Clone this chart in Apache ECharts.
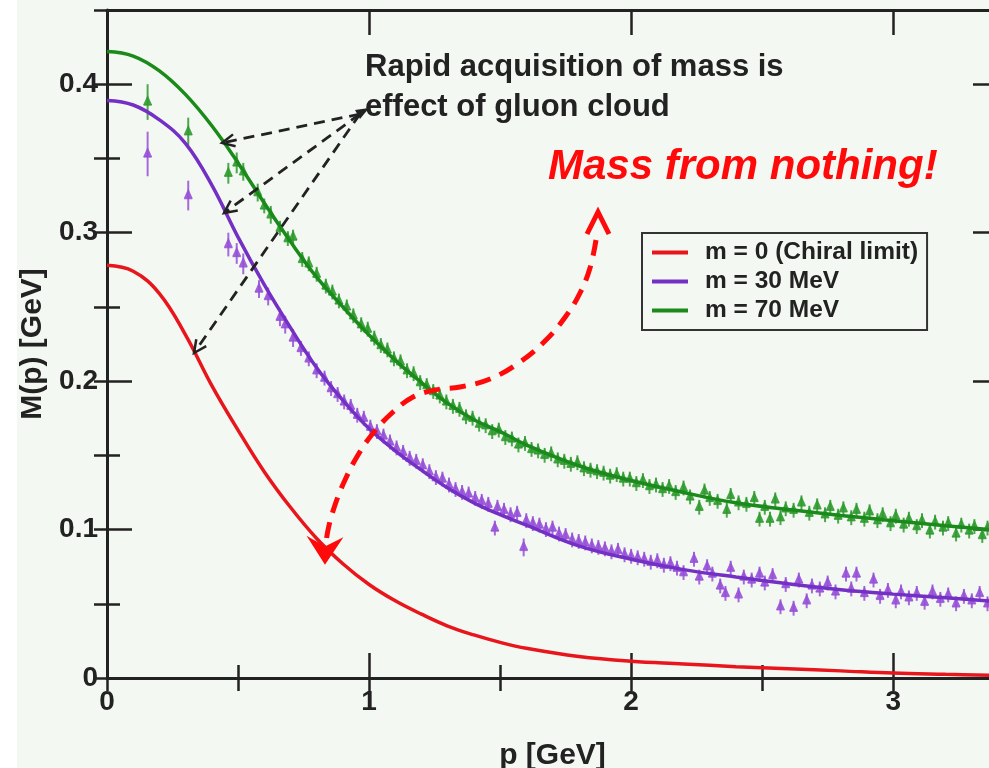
<!DOCTYPE html>
<html>
<head>
<meta charset="utf-8">
<script src="https://cdn.jsdelivr.net/npm/echarts@6/dist/echarts.min.js"></script>
<style>
  html, body { margin: 0; padding: 0; background: #fff; }
  #chart { width: 989px; height: 768px; }
</style>
</head>
<body>
<div id="chart"></div>
<script>
// fitted curves
const curveP = [0, 0.1, 0.2, 0.3, 0.4, 0.5, 0.6, 0.7, 0.8, 0.9, 1.0, 1.1, 1.2, 1.3, 1.4, 1.5, 1.6, 1.8, 2.0, 2.2, 2.4, 2.6, 2.8, 3.0, 3.2, 3.4];
const redM = [0.278, 0.274, 0.259, 0.231, 0.197, 0.167, 0.139, 0.115, 0.094, 0.077, 0.063, 0.052, 0.043, 0.035, 0.029, 0.024, 0.020, 0.0145, 0.0113, 0.0095, 0.0076, 0.0062, 0.0048, 0.0033, 0.0025, 0.0018];
const purpleM = [0.389, 0.386, 0.376, 0.360, 0.332, 0.297, 0.265, 0.236, 0.209, 0.187, 0.168, 0.153, 0.140, 0.128, 0.118, 0.110, 0.103, 0.089, 0.080, 0.073, 0.068, 0.0635, 0.0595, 0.0565, 0.054, 0.0515];
const greenM = [0.422, 0.419, 0.409, 0.393, 0.372, 0.347, 0.320, 0.294, 0.270, 0.250, 0.231, 0.214, 0.199, 0.185, 0.174, 0.166, 0.157, 0.143, 0.133, 0.125, 0.118, 0.1135, 0.1095, 0.106, 0.1025, 0.0995];

// lattice points [p, M, error]
const greenPts = [
  [0.155,0.388,0.012],[0.31,0.368,0.0095],[0.463,0.340,0.007],[0.495,0.347,0.007],[0.52,0.341,0.006],
  [0.575,0.327,0.006],[0.60,0.318,0.005],[0.625,0.312,0.006],[0.66,0.303,0.005],[0.69,0.296,0.005],
  [0.71,0.297,0.005],[0.745,0.282,0.005],[0.77,0.279,0.005],[0.80,0.272,0.005],[0.835,0.264,0.005],
  [0.86,0.260,0.005],[0.885,0.254,0.005],[0.915,0.250,0.005],[0.94,0.244,0.005],[0.97,0.238,0.005],
  [0.995,0.235,0.005],[1.02,0.229,0.005],[1.045,0.224,0.005],[1.07,0.221,0.005],[1.095,0.215,0.005],
  [1.12,0.213,0.005],[1.145,0.207,0.005],[1.17,0.205,0.005],[1.195,0.199,0.005],[1.22,0.197,0.005],
  [1.245,0.193,0.005],[1.27,0.190,0.005],[1.295,0.186,0.005],[1.32,0.183,0.005],[1.345,0.181,0.005],
  [1.37,0.176,0.005],[1.395,0.175,0.005],[1.42,0.171,0.005],[1.445,0.170,0.005],[1.47,0.166,0.005],
  [1.495,0.167,0.005],[1.52,0.162,0.005],[1.545,0.161,0.005],[1.57,0.157,0.005],[1.595,0.158,0.005],
  [1.62,0.154,0.005],[1.645,0.153,0.005],[1.67,0.150,0.005],[1.695,0.151,0.005],[1.72,0.147,0.005],
  [1.745,0.146,0.005],[1.77,0.144,0.005],[1.795,0.145,0.005],[1.82,0.141,0.005],[1.845,0.140,0.005],
  [1.87,0.139,0.005],[1.895,0.138,0.005],[1.92,0.136,0.005],[1.945,0.137,0.005],[1.97,0.134,0.005],
  [1.995,0.134,0.005],[2.02,0.131,0.005],[2.045,0.133,0.005],[2.07,0.129,0.005],[2.095,0.130,0.005],
  [2.12,0.127,0.005],[2.145,0.129,0.005],[2.17,0.125,0.005],[2.20,0.128,0.005],[2.225,0.122,0.005],
  [2.26,0.115,0.005],[2.28,0.126,0.005],[2.30,0.121,0.005],[2.33,0.119,0.005],[2.365,0.113,0.005],
  [2.38,0.123,0.005],[2.41,0.118,0.005],[2.44,0.117,0.005],[2.47,0.121,0.005],[2.49,0.107,0.005],
  [2.51,0.115,0.005],[2.53,0.107,0.005],[2.55,0.120,0.005],[2.57,0.108,0.005],[2.59,0.114,0.005],
  [2.62,0.113,0.005],[2.65,0.118,0.005],[2.68,0.111,0.005],[2.71,0.116,0.005],[2.74,0.110,0.005],
  [2.76,0.115,0.005],[2.79,0.109,0.005],[2.81,0.114,0.005],[2.84,0.108,0.005],[2.86,0.113,0.005],
  [2.89,0.107,0.005],[2.91,0.112,0.005],[2.94,0.106,0.005],[2.96,0.110,0.005],[2.99,0.104,0.005],
  [3.01,0.109,0.005],[3.04,0.103,0.005],[3.06,0.107,0.005],[3.09,0.102,0.005],[3.11,0.106,0.005],
  [3.14,0.099,0.005],[3.16,0.105,0.005],[3.19,0.101,0.005],[3.21,0.104,0.005],[3.24,0.097,0.005],
  [3.26,0.103,0.005],[3.29,0.099,0.005],[3.31,0.102,0.005],[3.34,0.096,0.005],[3.36,0.101,0.005],
  [3.39,0.098,0.005]
];
const purplePts = [
  [0.155,0.353,0.015],[0.31,0.325,0.010],[0.463,0.292,0.008],[0.495,0.286,0.007],[0.52,0.279,0.007],
  [0.58,0.262,0.006],[0.615,0.257,0.006],[0.66,0.243,0.006],[0.68,0.238,0.006],[0.71,0.229,0.006],
  [0.74,0.222,0.005],[0.77,0.215,0.005],[0.80,0.207,0.005],[0.83,0.202,0.005],[0.855,0.195,0.005],
  [0.88,0.191,0.005],[0.905,0.186,0.005],[0.93,0.183,0.005],[0.955,0.177,0.005],[0.98,0.175,0.005],
  [1.005,0.169,0.005],[1.03,0.166,0.005],[1.055,0.163,0.005],[1.08,0.159,0.005],[1.105,0.155,0.005],
  [1.13,0.152,0.005],[1.155,0.148,0.005],[1.18,0.146,0.005],[1.205,0.143,0.005],[1.23,0.139,0.005],
  [1.255,0.135,0.005],[1.28,0.134,0.005],[1.305,0.130,0.005],[1.33,0.127,0.005],[1.355,0.125,0.005],
  [1.38,0.124,0.005],[1.405,0.121,0.005],[1.43,0.119,0.005],[1.455,0.117,0.005],[1.48,0.101,0.005],
  [1.49,0.115,0.005],[1.515,0.113,0.005],[1.54,0.110,0.005],[1.565,0.111,0.005],[1.59,0.088,0.006],
  [1.60,0.106,0.005],[1.625,0.104,0.005],[1.65,0.103,0.005],[1.675,0.100,0.005],[1.70,0.101,0.005],
  [1.725,0.097,0.005],[1.75,0.096,0.005],[1.775,0.093,0.005],[1.80,0.092,0.005],[1.825,0.091,0.005],
  [1.85,0.089,0.005],[1.875,0.088,0.005],[1.90,0.087,0.005],[1.925,0.085,0.005],[1.95,0.086,0.005],
  [1.975,0.083,0.005],[2.00,0.082,0.005],[2.025,0.081,0.005],[2.05,0.080,0.005],[2.075,0.078,0.005],
  [2.10,0.079,0.005],[2.125,0.076,0.005],[2.15,0.077,0.005],[2.175,0.074,0.005],[2.20,0.071,0.005],
  [2.24,0.080,0.005],[2.26,0.068,0.005],[2.29,0.075,0.005],[2.31,0.070,0.005],[2.34,0.062,0.005],
  [2.36,0.057,0.005],[2.38,0.074,0.005],[2.41,0.056,0.005],[2.43,0.068,0.005],[2.46,0.066,0.005],
  [2.49,0.070,0.005],[2.51,0.064,0.005],[2.54,0.069,0.005],[2.57,0.048,0.005],[2.59,0.063,0.005],
  [2.62,0.047,0.005],[2.64,0.066,0.005],[2.67,0.052,0.005],[2.69,0.062,0.005],[2.72,0.060,0.005],
  [2.75,0.064,0.005],[2.78,0.058,0.005],[2.82,0.070,0.005],[2.84,0.060,0.005],[2.86,0.070,0.005],
  [2.89,0.057,0.005],[2.925,0.066,0.005],[2.95,0.055,0.005],[2.98,0.059,0.005],[3.01,0.052,0.005],
  [3.03,0.058,0.005],[3.06,0.054,0.005],[3.09,0.057,0.005],[3.12,0.051,0.005],[3.15,0.058,0.005],
  [3.18,0.053,0.005],[3.21,0.056,0.005],[3.24,0.050,0.005],[3.27,0.055,0.005],[3.30,0.052,0.005],
  [3.33,0.057,0.005],[3.36,0.050,0.005],[3.39,0.054,0.005]
];

const seriesNames = ['m = 0 (Chiral limit)', 'm = 30 MeV', 'm = 70 MeV'];
const lineColors = ['#e8161c', '#7430c4', '#1a8a1a'];
const markerColors = ['#9650d8', '#2f9a2f'];

const FONT = '"Liberation Sans", Arial, Helvetica, sans-serif';
const AX = '#222';

const myChart = echarts.init(document.getElementById('chart'));

// error bar + triangle marker
function pointRenderer(color) {
  return function (params, api) {
    const p = api.value(0), m = api.value(1), e = api.value(2);
    const top = api.coord([p, m + e]);
    const bot = api.coord([p, m - e]);
    const c = api.coord([p, m]);
    return {
      type: 'group',
      children: [
        { type: 'line', shape: { x1: top[0], y1: top[1], x2: bot[0], y2: bot[1] }, style: { stroke: color, lineWidth: 2, opacity: 0.85 } },
        { type: 'line', shape: { x1: c[0] - 4, y1: c[1] + 3, x2: c[0] + 4, y2: c[1] + 3 }, style: { stroke: color, lineWidth: 1.5, opacity: 0.8 } },
        { type: 'polygon', shape: { points: [[c[0], c[1] - 7], [c[0] - 4.5, c[1] + 3], [c[0] + 4.5, c[1] + 3]] }, style: { fill: color, opacity: 0.9 } }
      ]
    };
  };
}

// open arrow head for the annotation arrows
function arrowHead(from, tip, len, spread) {
  const a = Math.atan2(tip[1] - from[1], tip[0] - from[0]);
  return [
    [tip[0] - len * Math.cos(a - spread), tip[1] - len * Math.sin(a - spread)],
    tip,
    [tip[0] - len * Math.cos(a + spread), tip[1] - len * Math.sin(a + spread)]
  ];
}

const src = [364, 112];
const targets = [[222, 143], [224, 213], [194, 353]];
const dashStyle = { stroke: '#222', lineWidth: 2.8, lineDash: [11, 7] };
const blackArrows = [];
targets.forEach(t => {
  blackArrows.push({ type: 'line', shape: { x1: src[0] - 4, y1: src[1] + 2, x2: t[0], y2: t[1] }, style: dashStyle, z: 100 });
  blackArrows.push({ type: 'polyline', shape: { points: arrowHead(src, t, 14, 0.45) }, style: { stroke: '#222', lineWidth: 2.5, fill: null }, z: 100 });
});
blackArrows.push({ type: 'polygon', shape: { points: [[369, 108], [355, 110], [360, 119]] }, style: { fill: '#222' }, z: 100 });

const redPath = [[596, 240], [590, 268], [580, 293], [566, 316], [546, 340], [520, 362], [490, 379], [460, 387], [435, 390], [413, 397], [393, 412], [374, 432], [358, 455], [345, 480], [335, 505], [328, 530], [325, 552]];

const xMain = { min: 0, max: 3.4, interval: 1 };
const xMinor = { min: 0, max: 3.4, interval: 0.5 };
const yMain = { min: 0, max: 0.45, interval: 0.1 };
const yMinor = { min: 0, max: 0.45, interval: 0.05 };

function tickAxis(base, position, len, extra) {
  return Object.assign({
    type: 'value',
    position: position,
    min: base.min, max: base.max, interval: base.interval,
    splitLine: { show: false },
    axisLine: { show: true, onZero: false, lineStyle: { color: AX, width: 3 } },
    axisTick: { show: true, inside: true, length: len, lineStyle: { color: AX, width: 2.5 } },
    axisLabel: { show: false }
  }, extra || {});
}

const option = {
  backgroundColor: '#f4f8f2',
  animation: false,
  grid: { left: 107, top: 10, width: 891, height: 668, containLabel: false, outerBoundsMode: 'none' },
  legend: {
    data: seriesNames,
    orient: 'vertical',
    left: 642, top: 233,
    padding: [6, 9, 6, 10],
    itemGap: 2,
    itemWidth: 36, itemHeight: 4,
    icon: 'rect',
    borderColor: '#333', borderWidth: 2,
    backgroundColor: 'transparent',
    textStyle: { fontFamily: FONT, fontWeight: 'bold', fontSize: 24.5, color: '#222', lineHeight: 27, padding: [0, 0, 0, 12] }
  },
  xAxis: [
    tickAxis(xMain, 'bottom', 25, {
      name: 'p [GeV]', nameLocation: 'middle', nameGap: 63,
      nameTextStyle: { fontFamily: FONT, fontWeight: 'bold', fontSize: 30, color: '#222' },
      axisLabel: {
        show: true, margin: 10, fontFamily: FONT, fontWeight: 'bold', fontSize: 28, color: '#222',
        formatter: v => (Math.abs(v - Math.round(v)) < 1e-6 ? String(Math.round(v)) : '')
      }
    }),
    tickAxis(xMinor, 'bottom', 13, { axisLine: { show: false } }),
    tickAxis(xMain, 'top', 25),
    tickAxis(xMinor, 'top', 13, { axisLine: { show: false } })
  ],
  yAxis: [
    tickAxis(yMain, 'left', 25, {
      name: 'M(p) [GeV]', nameLocation: 'middle', nameGap: 54, nameRotate: 90,
      nameTextStyle: { fontFamily: FONT, fontWeight: 'bold', fontSize: 30, color: '#222' },
      axisLabel: {
        show: true, margin: 9, fontFamily: FONT, fontWeight: 'bold', fontSize: 28, color: '#222',
        formatter: v => {
          if (Math.abs(v) < 1e-9) return '0';
          return Math.abs(v * 10 - Math.round(v * 10)) < 1e-6 ? v.toFixed(1) : '';
        }
      }
    }),
    tickAxis(yMinor, 'left', 13, { axisLine: { show: false } }),
    tickAxis(yMain, 'right', 25),
    tickAxis(yMinor, 'right', 13, { axisLine: { show: false } })
  ],
  series: [
    {
      name: 'purple points', type: 'custom', xAxisIndex: 0, yAxisIndex: 0,
      dimensions: ['p', 'M', 'err'], encode: { x: 0, y: 1 },
      data: purplePts, renderItem: pointRenderer(markerColors[0]), z: 1
    },
    {
      name: 'green points', type: 'custom', xAxisIndex: 0, yAxisIndex: 0,
      dimensions: ['p', 'M', 'err'], encode: { x: 0, y: 1 },
      data: greenPts, renderItem: pointRenderer(markerColors[1]), z: 1
    },
    ...[redM, purpleM, greenM].map((vals, i) => ({
      name: seriesNames[i],
      type: 'line',
      xAxisIndex: 0, yAxisIndex: 0,
      data: curveP.map((p, k) => [p, vals[k]]),
      smooth: 0.4,
      showSymbol: false,
      itemStyle: { color: lineColors[i] },
      lineStyle: { color: lineColors[i], width: 3.5 },
      z: 3
    }))
  ],
  graphic: [
    { type: 'rect', shape: { x: 0, y: 0, width: 17, height: 768 }, style: { fill: '#ffffff' }, z: 0 },
    {
      type: 'text', x: 365, y: 47, z: 100,
      style: {
        text: 'Rapid acquisition of mass is\neffect of gluon cloud',
        font: 'bold 31px ' + FONT, fill: '#222', lineHeight: 40
      }
    },
    {
      type: 'text', x: 548, y: 146, z: 100,
      style: { text: 'Mass from nothing!', font: 'italic bold 42px ' + FONT, fill: '#ff0a0a' }
    },
    ...blackArrows,
    { type: 'polyline', shape: { points: redPath, smooth: 0.4 }, style: { stroke: '#ff0a0a', lineWidth: 5, lineDash: [16, 10], fill: null }, z: 100 },
    { type: 'polyline', shape: { points: [[587, 234], [598, 212], [609, 234]] }, style: { stroke: '#ff0a0a', lineWidth: 5, fill: null }, z: 100 },
    { type: 'polygon', shape: { points: [[311, 540], [325, 562], [339, 541], [325, 548]] }, style: { fill: '#ff0a0a', stroke: '#ff0a0a', lineWidth: 3 }, z: 100 }
  ]
};

option && myChart.setOption(option);
</script>
</body>
</html>
